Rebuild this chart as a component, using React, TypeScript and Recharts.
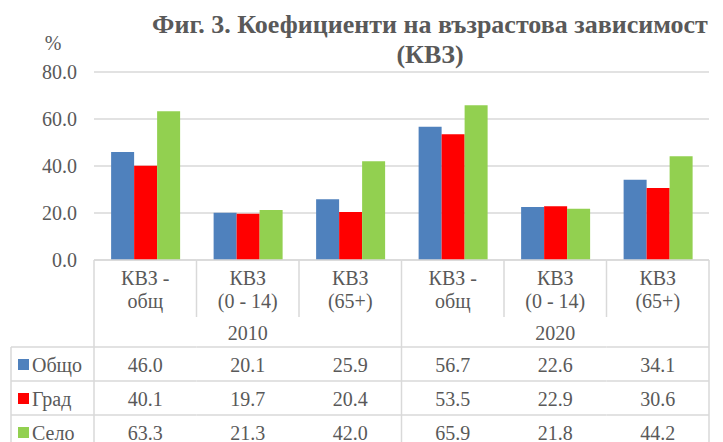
import React from "react";
import { Bar, BarChart, CartesianGrid, XAxis, YAxis } from "recharts";

// categories (two text lines each), grouped by year
const categoryLabels = [
  ["КВЗ -", "общ"],
  ["КВЗ", "(0 - 14)"],
  ["КВЗ", "(65+)"],
  ["КВЗ -", "общ"],
  ["КВЗ", "(0 - 14)"],
  ["КВЗ", "(65+)"],
];
const years = ["2010", "2020"];
const obshto = [46.0, 20.1, 25.9, 56.7, 22.6, 34.1];
const grad = [40.1, 19.7, 20.4, 53.5, 22.9, 30.6];
const selo = [63.3, 21.3, 42.0, 65.9, 21.8, 44.2];
const yTicks = [0, 20, 40, 60, 80];

const series = [
  { key: "obshto", name: "Общо", color: "#4F81BD", values: obshto },
  { key: "grad", name: "Град", color: "#FF0000", values: grad },
  { key: "selo", name: "Село", color: "#92D050", values: selo },
];

const W = 723;
const H = 442;
const X_AXIS_H = 182;
const MARGIN = { top: 72, right: 14, left: 0, bottom: 0 };
const Y_AXIS_W = 94;
const PLOT_W = W - MARGIN.left - MARGIN.right - Y_AXIS_W;
const TOP = H - MARGIN.bottom - X_AXIS_H;
const GROUP = categoryLabels.length / years.length;

const FONT = "'Liberation Serif', 'Times New Roman', serif";
const TEXT = "#595959";
const LINE = "#d9d9d9";
const LW = 1.5;

const data = categoryLabels.map((lines, i) => {
  const row: Record<string, string | number> = {
    key: `${years[Math.floor(i / GROUP)]}|${lines.join(" ")}`,
  };
  series.forEach((s) => (row[s.key] = s.values[i]));
  return row;
});

const HEADER_SPLIT = TOP + 57;
const ROW_TOP = [TOP + 87, TOP + 121, TOP + 155];
const ROW_H = 34;
const BOTTOM = TOP + 87 + ROW_H * 3;
const ROW_HEAD_X = 11;

const txt = { fontFamily: FONT, fontSize: 20, fill: TEXT };

function YTick(props: any) {
  const { x, y, payload } = props;
  return (
    <text x={x} y={y} dy={7} textAnchor="end" style={txt}>
      {Number(payload.value).toFixed(1)}
    </text>
  );
}

function TableTick(props: any) {
  const { payload, index } = props;
  const i: number = index;
  const band = PLOT_W / categoryLabels.length;
  const cx: number = payload.coordinate;
  const left = cx - band / 2;
  const right = cx + band / 2;
  const groupEdge = i % GROUP === 0;
  const last = i === categoryLabels.length - 1;
  const [l1, l2] = categoryLabels[i];

  return (
    <g>
      {/* cell borders */}
      <line x1={left} x2={right} y1={TOP} y2={TOP} stroke={LINE} strokeWidth={LW} />
      <line x1={left} x2={left} y1={TOP} y2={groupEdge ? BOTTOM : HEADER_SPLIT} stroke={LINE} strokeWidth={LW} />
      {last && <line x1={right} x2={right} y1={TOP} y2={BOTTOM} stroke={LINE} strokeWidth={LW} />}
      {ROW_TOP.map((ry) => (
        <line key={ry} x1={left} x2={right} y1={ry} y2={ry} stroke={LINE} strokeWidth={LW} />
      ))}
      <line x1={left} x2={right} y1={BOTTOM} y2={BOTTOM} stroke={LINE} strokeWidth={LW} />

      <text x={cx} y={TOP + 25} textAnchor="middle" style={txt}>{l1}</text>
      <text x={cx} y={TOP + 48} textAnchor="middle" style={txt}>{l2}</text>
      {i % GROUP === Math.floor(GROUP / 2) && (
        <text x={GROUP % 2 ? cx : left} y={TOP + 80} textAnchor="middle" style={txt}>
          {years[Math.floor(i / GROUP)]}
        </text>
      )}
      {series.map((s, r) => (
        <text key={s.key} x={cx} y={ROW_TOP[r] + 25} textAnchor="middle" style={txt}>
          {s.values[i].toFixed(1)}
        </text>
      ))}

      {i === 0 && (
        <g>
          <line x1={ROW_HEAD_X} x2={ROW_HEAD_X} y1={ROW_TOP[0]} y2={BOTTOM} stroke={LINE} strokeWidth={LW} />
          {series.map((s, r) => (
            <g key={s.key}>
              <line x1={ROW_HEAD_X} x2={left} y1={ROW_TOP[r]} y2={ROW_TOP[r]} stroke={LINE} strokeWidth={LW} />
              <rect x={18} y={ROW_TOP[r] + 12} width={11} height={11} fill={s.color} />
              <text x={32} y={ROW_TOP[r] + 25} style={txt}>{s.name}</text>
            </g>
          ))}
          <line x1={ROW_HEAD_X} x2={left} y1={BOTTOM} y2={BOTTOM} stroke={LINE} strokeWidth={LW} />
        </g>
      )}
    </g>
  );
}

export default function App() {
  return (
    <div style={{ position: "relative", width: W, height: H, fontFamily: FONT }}>
      <style>{`body{margin:0}`}</style>
      <BarChart width={W} height={H} data={data} margin={MARGIN} barCategoryGap="16.7%" barGap={0}>
        <CartesianGrid vertical={false} stroke={LINE} strokeWidth={LW} />
        <XAxis
          dataKey="key"
          interval={0}
          axisLine={false}
          tickLine={false}
          height={X_AXIS_H}
          tick={<TableTick />}
        />
        <YAxis
          width={Y_AXIS_W}
          domain={[0, 80]}
          ticks={yTicks}
          axisLine={false}
          tickLine={false}
          tickSize={0}
          tickMargin={17}
          tick={<YTick />}
        />
        {series.map((s) => (
          <Bar key={s.key} dataKey={s.key} name={s.name} fill={s.color} isAnimationActive={false} />
        ))}
      </BarChart>
      <svg width={W} height={80} style={{ position: "absolute", left: 0, top: 0, pointerEvents: "none" }}>
        <text x={430} y={33} textAnchor="middle" style={{ ...txt, fontSize: 26, fontWeight: "bold" }}>
          Фиг. 3. Коефициенти на възрастова зависимост
        </text>
        <text x={430} y={63} textAnchor="middle" style={{ ...txt, fontSize: 26, fontWeight: "bold" }}>
          (КВЗ)
        </text>
        <text x={53} y={50} textAnchor="middle" style={txt}>
          %
        </text>
      </svg>
    </div>
  );
}
